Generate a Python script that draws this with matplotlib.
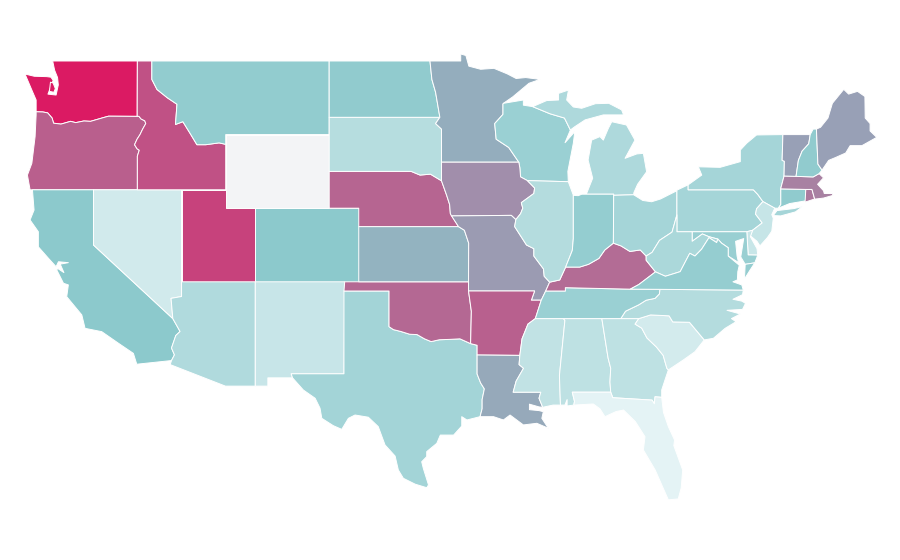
import numpy as np
import matplotlib
matplotlib.use("Agg")
import matplotlib.pyplot as plt
from matplotlib.colors import LinearSegmentedColormap, Normalize

WA = [(-122.76,49.0),(-117.03,49.0),(-117.04,46.42),(-117.04,46.0),(-116.92,45.99),(-118.98,46.0),(-119.3,45.93),(-120.2,45.72),(-120.65,45.74),(-121.2,45.65),(-121.55,45.72),(-122.2,45.57),(-122.7,45.62),(-122.8,45.9),(-123.1,46.18),(-123.43,46.23),(-123.88,46.24),(-123.88,46.88),(-124.17,47.42),(-124.63,48.29),(-124.0,48.17),(-123.16,48.15),(-122.88,48.12),(-122.73,47.95),(-123.08,47.2),(-122.53,47.15),(-122.38,47.7),(-122.43,48.1),(-122.63,48.5)]
WA_KITSAP = [(-122.91,47.85),(-122.73,47.8),(-122.58,47.5),(-122.68,47.3),(-122.98,47.35)]
OR = [(-123.88,46.24),(-123.43,46.23),(-123.1,46.18),(-122.8,45.9),(-122.7,45.62),(-122.2,45.57),(-121.55,45.72),(-121.2,45.65),(-120.65,45.74),(-120.2,45.72),(-119.3,45.93),(-118.98,46.0),(-116.92,45.99),(-116.78,45.85),(-116.53,45.75),(-116.46,45.6),(-116.67,45.3),(-116.85,45.0),(-117.05,44.75),(-117.22,44.45),(-117.05,44.23),(-116.9,44.15),(-117.03,43.83),(-117.03,42.0),(-124.29,42.0),(-124.47,42.8),(-124.17,43.44),(-123.95,44.89),(-123.88,46.07)]
CA = [(-124.13,42.0),(-120.0,42.0),(-120.0,39.0),(-114.63,35.0),(-114.14,34.3),(-114.43,34.08),(-114.72,33.4),(-114.52,33.03),(-114.72,32.72),(-117.07,32.52),(-117.3,33.11),(-118.31,33.66),(-119.44,34.29),(-120.57,34.47),(-120.79,35.2),(-121.81,36.19),(-121.7,36.83),(-122.03,36.92),(-122.48,37.64),(-122.43,37.73),(-122.0,37.5),(-122.25,37.96),(-121.7,38.04),(-122.37,38.09),(-122.53,37.82),(-123.05,38.28),(-123.73,38.9),(-123.73,39.72),(-124.29,40.36),(-124.02,40.9)]
NV = [(-120.0,42.0),(-114.04,42.0),(-114.04,36.2),(-114.75,36.1),(-114.63,35.0),(-120.0,39.0)]
ID = [(-117.03,49.0),(-116.05,49.0),(-116.05,48.0),(-115.7,47.45),(-115.0,47.0),(-114.35,46.65),(-114.45,45.55),(-113.95,45.7),(-113.45,45.05),(-113.0,44.45),(-112.4,44.45),(-111.5,44.55),(-111.05,44.47),(-111.05,42.0),(-117.03,42.0),(-117.03,43.83),(-116.9,44.15),(-117.05,44.23),(-117.22,44.45),(-117.05,44.75),(-116.85,45.0),(-116.67,45.3),(-116.46,45.6),(-116.53,45.75),(-116.78,45.85),(-116.92,45.99),(-117.04,46.0),(-117.04,46.42)]
MT = [(-116.05,49.0),(-104.05,49.0),(-104.05,45.0),(-111.05,45.0),(-111.05,44.47),(-111.5,44.55),(-112.4,44.45),(-113.0,44.45),(-113.45,45.05),(-113.95,45.7),(-114.45,45.55),(-114.35,46.65),(-115.0,47.0),(-115.7,47.45),(-116.05,48.0)]
WY = [(-111.05,45.0),(-104.05,45.0),(-104.05,41.0),(-111.05,41.0)]
UT = [(-114.04,42.0),(-111.05,42.0),(-111.05,41.0),(-109.05,41.0),(-109.05,37.0),(-114.04,37.0)]
CO = [(-109.05,41.0),(-102.05,41.0),(-102.05,37.0),(-109.05,37.0)]
AZ = [(-114.04,37.0),(-109.05,37.0),(-109.05,31.33),(-111.07,31.33),(-114.81,32.5),(-114.72,32.72),(-114.52,33.03),(-114.72,33.4),(-114.43,34.08),(-114.14,34.3),(-114.63,35.0),(-114.75,36.1),(-114.04,36.2)]
NM = [(-109.05,37.0),(-103.0,37.0),(-103.05,32.0),(-106.62,32.0),(-106.53,31.78),(-108.2,31.78),(-108.2,31.33),(-109.05,31.33)]
TX = [(-103.05,36.5),(-100.0,36.5),(-100.0,34.56),(-99.7,34.4),(-99.2,34.3),(-98.6,34.15),(-98.1,34.13),(-97.6,33.9),(-97.15,33.75),(-96.6,33.85),(-95.9,33.87),(-95.2,33.9),(-94.48,33.64),(-94.04,33.55),(-94.04,33.02),(-94.04,31.99),(-93.8,31.5),(-93.55,31.18),(-93.7,30.6),(-93.7,30.1),(-93.84,29.67),(-94.73,29.49),(-95.08,29.67),(-95.08,29.16),(-95.63,28.67),(-96.53,28.67),(-96.77,28.22),(-97.45,27.77),(-97.45,27.5),(-97.79,27.22),(-97.68,26.86),(-97.33,25.96),(-97.45,25.81),(-98.23,26.0),(-99.03,26.32),(-99.37,26.77),(-99.59,27.53),(-100.27,28.13),(-100.73,29.13),(-101.4,29.64),(-102.3,29.76),(-102.75,29.58),(-103.2,28.98),(-103.77,29.18),(-104.55,29.58),(-104.67,30.13),(-105.0,30.67),(-105.8,31.12),(-106.53,31.78),(-106.62,32.0),(-103.05,32.0)]
OK = [(-103.0,37.0),(-94.62,37.0),(-94.62,36.5),(-94.43,35.4),(-94.48,33.64),(-95.2,33.9),(-95.9,33.87),(-96.6,33.85),(-97.15,33.75),(-97.6,33.9),(-98.1,34.13),(-98.6,34.15),(-99.2,34.3),(-99.7,34.4),(-100.0,34.56),(-100.0,36.5),(-103.05,36.5)]
KS = [(-102.05,40.0),(-95.3,40.0),(-94.9,39.8),(-94.61,39.1),(-94.62,37.0),(-102.05,37.0)]
NE = [(-104.05,43.0),(-98.5,43.0),(-97.9,42.8),(-97.2,42.85),(-96.45,42.49),(-96.1,41.7),(-95.9,41.2),(-95.85,40.7),(-95.3,40.0),(-102.05,40.0),(-102.05,41.0),(-104.05,41.0)]
SD = [(-104.05,45.94),(-96.56,45.94),(-96.85,45.6),(-96.45,45.3),(-96.45,43.5),(-96.45,42.49),(-97.2,42.85),(-97.9,42.8),(-98.5,43.0),(-104.05,43.0)]
ND = [(-104.05,49.0),(-97.23,49.0),(-97.1,48.0),(-96.85,47.3),(-96.56,45.94),(-104.05,45.94)]
MN = [(-97.23,49.0),(-95.15,49.0),(-95.15,49.38),(-94.8,49.3),(-94.6,48.72),(-93.8,48.55),(-92.9,48.6),(-92.0,48.3),(-91.4,48.05),(-90.75,48.1),(-89.78,48.0),(-90.53,47.79),(-91.63,47.05),(-92.26,46.7),(-92.29,46.66),(-92.29,46.1),(-92.85,45.6),(-92.75,44.75),(-91.9,44.3),(-91.22,43.5),(-96.45,43.5),(-96.45,45.3),(-96.85,45.6),(-96.56,45.94),(-96.85,47.3),(-97.1,48.0)]
WI = [(-92.29,46.66),(-92.26,46.7),(-90.91,46.88),(-90.91,46.6),(-90.28,46.52),(-89.1,46.13),(-88.13,45.9),(-87.73,45.25),(-88.09,44.56),(-87.43,45.16),(-87.53,44.53),(-87.9,43.0),(-87.87,42.44),(-90.64,42.5),(-91.1,42.7),(-91.15,43.2),(-91.22,43.5),(-91.9,44.3),(-92.75,44.75),(-92.85,45.6),(-92.29,46.1)]
MI_UPPER = [(-90.28,46.52),(-89.33,46.85),(-88.53,46.88),(-88.53,47.24),(-87.86,47.42),(-87.98,46.88),(-87.53,46.5),(-86.96,46.43),(-86.03,46.68),(-85.13,46.7),(-84.26,46.34),(-84.13,46.07),(-85.5,46.07),(-86.73,45.8),(-87.43,45.43),(-87.73,45.25),(-88.13,45.9),(-89.1,46.13)]
MI_LOWER = [(-86.96,41.76),(-84.8,41.76),(-84.8,41.7),(-83.45,41.73),(-83.43,41.85),(-83.18,42.3),(-82.57,42.98),(-82.79,43.98),(-83.23,43.95),(-84.03,43.71),(-83.36,44.7),(-83.93,45.52),(-84.93,45.7),(-85.16,45.34),(-85.5,44.7),(-85.73,44.89),(-86.29,44.7),(-86.53,43.62),(-86.22,42.63),(-86.63,41.8)]
IA = [(-96.45,43.5),(-91.22,43.5),(-91.15,43.2),(-91.1,42.7),(-90.64,42.5),(-90.15,42.1),(-90.2,41.8),(-91.05,41.3),(-90.95,41.0),(-91.1,40.7),(-91.42,40.38),(-91.73,40.61),(-95.77,40.58),(-95.85,40.7),(-95.9,41.2),(-96.1,41.7),(-96.45,42.49)]
MO = [(-95.77,40.58),(-91.73,40.61),(-91.42,40.38),(-91.5,40.0),(-90.7,39.0),(-90.2,38.8),(-90.2,38.4),(-89.55,37.7),(-89.5,37.3),(-89.13,36.98),(-89.4,36.5),(-89.7,36.0),(-90.37,36.0),(-90.15,36.5),(-94.62,36.5),(-94.62,37.0),(-94.61,39.1),(-94.9,39.8),(-95.3,40.0)]
AR = [(-94.62,36.5),(-90.15,36.5),(-90.37,36.0),(-89.7,36.0),(-90.1,35.0),(-90.6,34.7),(-91.0,33.9),(-91.15,33.0),(-94.04,33.02),(-94.04,33.55),(-94.48,33.64),(-94.43,35.4)]
LA = [(-94.04,33.02),(-91.15,33.0),(-91.2,32.5),(-90.9,32.3),(-91.4,31.6),(-91.6,31.0),(-89.73,31.0),(-89.85,30.67),(-89.6,30.18),(-89.85,30.2),(-90.5,30.35),(-90.5,30.05),(-89.85,30.0),(-89.56,29.94),(-89.66,29.58),(-89.22,29.04),(-90.0,29.31),(-90.91,29.22),(-91.81,29.76),(-92.26,29.49),(-92.93,29.67),(-93.84,29.67),(-93.7,30.1),(-93.7,30.6),(-93.55,31.18),(-93.8,31.5),(-94.04,31.99)]
MS = [(-90.1,35.0),(-88.2,35.0),(-88.1,34.9),(-88.47,31.9),(-88.4,30.3),(-88.9,30.3),(-89.6,30.18),(-89.85,30.67),(-89.73,31.0),(-91.6,31.0),(-91.4,31.6),(-90.9,32.3),(-91.2,32.5),(-91.15,33.0),(-91.0,33.9),(-90.6,34.7)]
AL = [(-88.2,35.0),(-85.6,35.0),(-85.18,32.87),(-85.0,32.3),(-85.05,31.55),(-85.0,31.0),(-87.6,31.0),(-87.45,30.5),(-87.5,30.3),(-87.95,30.25),(-87.95,30.6),(-88.1,30.3),(-88.4,30.3),(-88.47,31.9),(-88.1,34.9)]
GA = [(-85.6,35.0),(-83.1,35.0),(-83.35,34.7),(-82.9,34.48),(-82.55,33.95),(-81.9,33.45),(-81.45,33.0),(-81.2,32.3),(-81.1,32.21),(-81.33,31.66),(-81.55,31.12),(-81.55,30.72),(-82.0,30.75),(-82.05,30.37),(-82.2,30.57),(-84.86,30.7),(-85.0,31.0),(-85.05,31.55),(-85.0,32.3),(-85.18,32.87)]
FL = [(-87.6,31.0),(-85.0,31.0),(-84.86,30.7),(-82.2,30.57),(-82.05,30.37),(-82.0,30.75),(-81.55,30.72),(-81.43,29.9),(-81.1,29.13),(-80.68,28.4),(-80.73,28.1),(-80.13,26.77),(-80.23,25.8),(-80.43,25.2),(-81.1,25.15),(-81.99,26.77),(-82.79,27.86),(-82.68,28.58),(-83.33,29.4),(-84.13,30.03),(-84.63,29.95),(-85.39,29.67),(-85.73,30.1),(-86.18,30.36),(-87.5,30.3),(-87.45,30.5)]
SC = [(-83.1,35.0),(-82.3,35.2),(-81.05,35.15),(-80.8,34.82),(-79.67,34.8),(-78.67,33.84),(-79.3,33.2),(-80.09,32.75),(-81.1,32.21),(-81.2,32.3),(-81.45,33.0),(-81.9,33.45),(-82.55,33.95),(-82.9,34.48),(-83.35,34.7)]
NC = [(-84.32,35.0),(-83.1,35.0),(-82.3,35.2),(-81.05,35.15),(-80.8,34.82),(-79.67,34.8),(-78.67,33.84),(-78.05,33.93),(-77.26,34.47),(-76.52,34.83),(-76.83,35.0),(-76.23,35.25),(-77.13,35.45),(-76.08,35.5),(-75.88,35.83),(-76.13,35.95),(-76.73,36.05),(-76.08,36.3),(-76.03,36.55),(-81.68,36.59),(-81.7,36.35),(-82.0,36.1),(-82.6,36.0),(-83.1,35.75),(-84.0,35.4)]
TN = [(-90.1,35.0),(-88.2,35.0),(-85.6,35.0),(-84.32,35.0),(-84.0,35.4),(-83.1,35.75),(-82.6,36.0),(-82.0,36.1),(-81.7,36.35),(-81.68,36.59),(-83.68,36.6),(-86.5,36.65),(-88.07,36.68),(-88.07,36.5),(-89.4,36.5),(-89.7,36.0)]
KY = [(-89.4,36.5),(-88.07,36.5),(-88.07,36.68),(-86.5,36.65),(-83.68,36.6),(-83.1,36.85),(-81.97,37.54),(-82.6,38.17),(-82.6,38.4),(-83.0,38.73),(-83.7,38.65),(-84.3,38.95),(-84.82,39.1),(-85.4,38.73),(-85.8,38.27),(-86.5,37.95),(-87.1,37.8),(-88.05,37.8),(-88.45,37.1),(-89.13,36.98)]
IL = [(-90.64,42.5),(-87.87,42.44),(-87.55,41.75),(-87.53,41.7),(-87.53,39.35),(-87.6,38.7),(-88.05,37.8),(-88.45,37.1),(-89.13,36.98),(-89.5,37.3),(-89.55,37.7),(-90.2,38.4),(-90.2,38.8),(-90.7,39.0),(-91.5,40.0),(-91.42,40.38),(-91.1,40.7),(-90.95,41.0),(-91.05,41.3),(-90.2,41.8),(-90.15,42.1)]
IN = [(-87.53,41.7),(-87.2,41.68),(-86.96,41.76),(-84.8,41.76),(-84.82,39.1),(-85.4,38.73),(-85.8,38.27),(-86.5,37.95),(-87.1,37.8),(-88.05,37.8),(-87.6,38.7),(-87.53,39.35)]
OH = [(-84.8,41.7),(-83.45,41.73),(-82.83,41.42),(-82.23,41.35),(-81.63,41.5),(-80.52,41.95),(-80.52,40.64),(-80.85,39.7),(-81.7,39.25),(-82.2,38.6),(-82.6,38.4),(-83.0,38.73),(-83.7,38.65),(-84.3,38.95),(-84.82,39.1)]
PA = [(-80.52,41.98),(-79.76,42.27),(-79.76,42.0),(-75.35,42.0),(-75.05,41.75),(-74.7,41.36),(-75.13,40.97),(-75.2,40.68),(-74.75,40.2),(-75.4,39.8),(-75.79,39.72),(-80.52,39.72),(-80.52,40.64)]
NY = [(-79.76,42.0),(-79.76,42.27),(-78.84,42.8),(-79.07,43.25),(-77.6,43.22),(-76.23,43.53),(-76.23,44.16),(-75.8,44.53),(-75.13,44.98),(-73.35,45.0),(-73.4,43.6),(-73.25,43.55),(-73.27,42.75),(-73.5,42.05),(-73.49,41.2),(-73.66,41.0),(-73.9,41.0),(-74.7,41.36),(-75.05,41.75),(-75.35,42.0)]
LONG_ISLAND = [(-74.0,40.6),(-73.75,40.87),(-72.6,40.98),(-72.0,41.1),(-72.5,40.8),(-73.5,40.58)]
NJ = [(-74.7,41.36),(-73.9,41.0),(-74.1,40.65),(-74.0,40.45),(-74.1,39.75),(-74.4,39.4),(-74.9,38.95),(-75.1,39.2),(-75.55,39.5),(-75.4,39.8),(-74.75,40.2),(-75.2,40.68),(-75.13,40.97)]
DE = [(-75.79,39.72),(-75.4,39.8),(-75.55,39.45),(-75.1,38.8),(-75.05,38.45),(-75.7,38.46)]
MD = [(-79.49,39.72),(-75.79,39.72),(-75.7,38.46),(-75.05,38.45),(-75.25,38.03),(-75.9,37.95),(-76.2,38.35),(-76.0,39.35),(-76.55,39.2),(-76.45,38.4),(-76.35,38.05),(-77.05,38.4),(-77.05,38.85),(-77.5,39.1),(-77.75,39.32),(-78.35,39.45),(-78.8,39.6),(-79.49,39.2)]
WV = [(-80.52,40.64),(-80.52,39.72),(-79.49,39.72),(-79.49,39.2),(-78.8,39.6),(-78.35,39.45),(-77.75,39.32),(-77.83,39.13),(-78.35,39.4),(-78.85,38.77),(-79.3,38.4),(-79.65,38.55),(-80.3,37.55),(-81.3,37.3),(-81.97,37.54),(-82.6,38.17),(-82.6,38.4),(-82.2,38.6),(-81.7,39.25),(-80.85,39.7)]
VA = [(-83.68,36.6),(-81.68,36.59),(-76.03,36.55),(-76.13,36.83),(-76.73,37.0),(-76.43,37.1),(-76.4,37.55),(-76.3,37.9),(-77.05,38.4),(-77.05,38.85),(-77.5,39.1),(-77.75,39.32),(-77.83,39.13),(-78.35,39.4),(-78.85,38.77),(-79.3,38.4),(-79.65,38.55),(-80.3,37.55),(-81.3,37.3),(-81.97,37.54),(-83.1,36.85)]
VA_SHORE = [(-75.25,38.03),(-75.9,37.95),(-75.95,37.15),(-75.6,37.6)]
CT = [(-73.49,42.05),(-71.8,42.02),(-71.8,41.4),(-72.9,41.25),(-73.66,41.0),(-73.49,41.2)]
RI = [(-71.8,42.02),(-71.38,42.02),(-71.2,41.5),(-71.85,41.33)]
MA = [(-73.5,42.05),(-73.27,42.75),(-72.46,42.73),(-71.3,42.7),(-70.9,42.88),(-70.6,42.65),(-71.0,42.3),(-70.6,41.95),(-70.55,41.8),(-70.05,41.8),(-70.2,42.07),(-69.95,41.7),(-70.6,41.55),(-71.12,41.5),(-71.2,41.5),(-71.38,42.02),(-71.8,42.02)]
VT = [(-73.35,45.0),(-71.5,45.0),(-71.6,44.5),(-72.05,44.1),(-72.3,43.6),(-72.46,42.73),(-73.27,42.75),(-73.25,43.55),(-73.4,43.6)]
NH = [(-71.5,45.0),(-71.3,45.3),(-71.08,45.3),(-70.98,43.4),(-70.7,43.07),(-70.9,42.88),(-71.3,42.7),(-72.46,42.73),(-72.3,43.6),(-72.05,44.1),(-71.6,44.5)]
ME = [(-71.08,45.3),(-70.8,45.4),(-70.3,45.9),(-70.0,46.7),(-69.23,47.46),(-68.9,47.2),(-68.3,47.35),(-67.8,47.07),(-67.78,45.9),(-67.45,45.6),(-67.45,45.2),(-67.0,44.85),(-68.0,44.4),(-68.8,44.4),(-69.1,44.0),(-69.8,43.75),(-70.25,43.6),(-70.7,43.07),(-70.98,43.4)]

state_shapes = [WA, WA_KITSAP, OR, CA, NV, ID, MT, WY, UT, CO, AZ, NM, TX, OK, KS, NE, SD, ND, MN, WI,
                MI_UPPER, MI_LOWER, IA, MO, AR, LA, MS, AL, GA, FL, SC, NC, TN, KY, IL, IN,
                OH, PA, NY, LONG_ISLAND, NJ, DE, MD, WV, VA, VA_SHORE, CT, RI, MA, VT, NH, ME]
# Values read from fill shade, 0 to 100; Wyoming has no value
state_values = [100, 100, 74.5, 35, 7.5, 79.6, 32.5, np.nan, 85, 35, 21, 11.5, 26, 71, 43, 72, 18.7, 33, 45.5, 29.5,
                21.5, 21.5, 56.7, 52, 74, 47, 14.3, 15.5, 15.5, 0, 6.8, 19.5, 29.5, 69.6, 19.5, 32,
                25, 25, 25, 25, 12, 11, 30, 22.7, 31.5, 31.5, 33.5, 64.8, 62, 50, 33, 50]

cmap = LinearSegmentedColormap.from_list(
    "teal_crimson",
    [(0.0, "#E4F3F5"), (0.35, "#8CC9CC"), (0.5, "#98A1B6"), (1.0, "#DB1A63")])
cmap.set_bad("#F3F4F6")
norm = Normalize(0, 100)

fig = plt.figure(figsize=(9, 5.6), dpi=100)
ax = fig.add_axes([0, 0, 1, 1])
for shape, value in zip(state_shapes, state_values):
    lons, lats = zip(*shape)
    ax.fill(lons, lats, facecolor=cmap(norm(np.ma.masked_invalid(value))),
            edgecolor="white", linewidth=0.7, joinstyle="round")

ax.set_xlim(-126.325, -65.425)
ax.set_ylim(21.88, 52.315)
ax.axis("off")
fig.savefig("out.png", dpi=100, facecolor="white")
